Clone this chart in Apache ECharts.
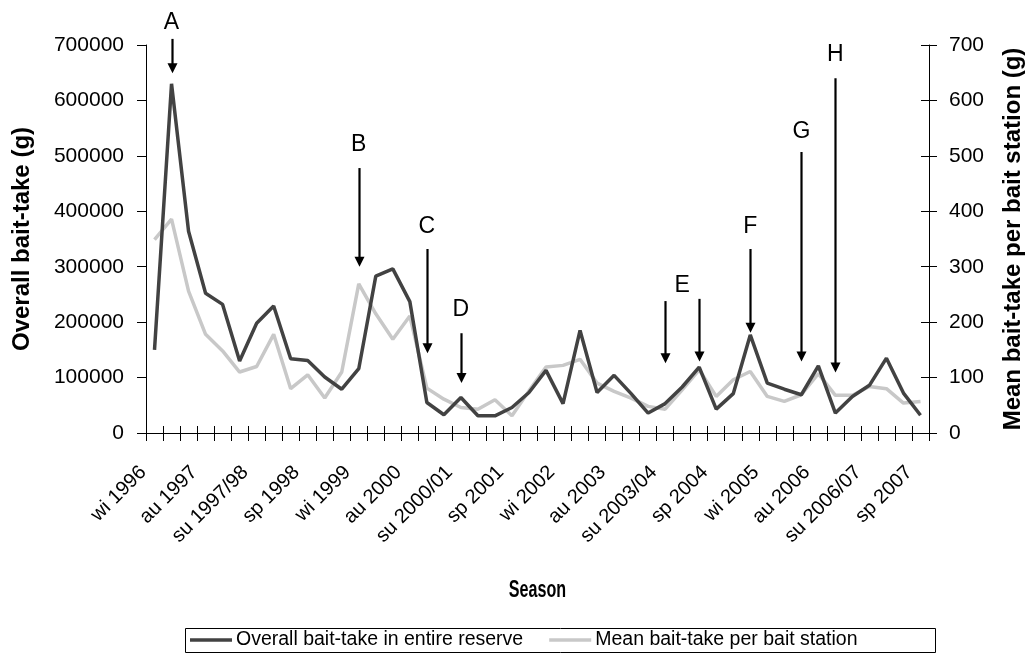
<!DOCTYPE html>
<html>
<head>
<meta charset="utf-8">
<script src="https://cdn.jsdelivr.net/npm/echarts@6/dist/echarts.min.js"></script>
<style>
  html, body { margin: 0; padding: 0; background: #ffffff; }
  #chart { width: 1033px; height: 666px; }
</style>
</head>
<body>
<div id="chart"></div>
<script>
// Seasons, winter 1996 to spring 2007 (southern-hemisphere order: wi, sp, su, au)
const seasons = [
  'wi 1996', 'sp 1996', 'su 1996/97', 'au 1997', 'wi 1997', 'sp 1997', 'su 1997/98', 'au 1998',
  'wi 1998', 'sp 1998', 'su 1998/99', 'au 1999', 'wi 1999', 'sp 1999', 'su 1999/2000', 'au 2000',
  'wi 2000', 'sp 2000', 'su 2000/01', 'au 2001', 'wi 2001', 'sp 2001', 'su 2001/02', 'au 2002',
  'wi 2002', 'sp 2002', 'su 2002/03', 'au 2003', 'wi 2003', 'sp 2003', 'su 2003/04', 'au 2004',
  'wi 2004', 'sp 2004', 'su 2004/05', 'au 2005', 'wi 2005', 'sp 2005', 'su 2005/06', 'au 2006',
  'wi 2006', 'sp 2006', 'su 2006/07', 'au 2007', 'wi 2007', 'sp 2007'
];

// Overall bait-take in the entire reserve (g)
const overallBaitTake = [
  150000, 630000, 364000, 252000, 232000, 130000, 198000, 229000, 134000, 131000, 101000, 79000,
  116000, 283000, 296000, 237000, 55000, 33000, 64000, 31000, 31000, 46000, 73000,
  113000, 53000, 185000, 73000, 104000, 71000, 36000, 53000, 83000, 119000, 43000, 71000,
  177000, 90000, 79000, 69000, 121000, 36000, 66000, 86000, 135000, 72000, 32000
];

// Mean bait-take per bait station (g)
const meanBaitTake = [
  349, 386, 256, 178, 148, 110, 120, 178, 80, 105, 63, 110,
  269, 215, 169, 211, 81, 61, 46, 43, 60, 31, 76,
  119, 122, 133, 90, 75, 63, 48, 43, 78, 114, 66, 96,
  111, 66, 57, 69, 107, 68, 68, 84, 80, 54, 57
];

// Axis ranges
const leftAxisMax = 700000;
const leftAxisStep = 100000;
const rightAxisMax = 700;
const rightAxisStep = 100;

// Management events: arrow at a season, from its top down to its tip (left-axis units)
const eventArrows = [
  { season: 1,  from: 711000, to: 649000 },
  { season: 12, from: 478000, to: 300000 },
  { season: 16, from: 332000, to: 144000 },
  { season: 18, from: 180000, to: 90000 },
  { season: 30, from: 238000, to: 126000 },
  { season: 32, from: 242000, to: 129000 },
  { season: 35, from: 332000, to: 181000 },
  { season: 38, from: 507000, to: 129000 },
  { season: 40, from: 640000, to: 109000 }
];
// Event letters: season and height on the left axis
const eventLetters = [
  { text: 'A', season: 1,  value: 740000 },
  { text: 'B', season: 12, value: 520000 },
  { text: 'C', season: 16, value: 372000 },
  { text: 'D', season: 18, value: 222000 },
  { text: 'E', season: 31, value: 265000 },
  { text: 'F', season: 35, value: 373000 },
  { text: 'G', season: 38, value: 543000 },
  { text: 'H', season: 40, value: 682000 }
];

const FONT = '"Liberation Sans", Arial, Helvetica, sans-serif';
const DARK = '#424242';
const LIGHT = '#c8c8c8';

const chart = echarts.init(document.getElementById('chart'), null, { renderer: 'canvas' });

const titleStyle = { fontFamily: FONT, fontSize: 24, fontWeight: 'bold', color: '#000000' };

chart.setOption({
  animation: false,
  backgroundColor: '#ffffff',
  textStyle: { fontFamily: FONT },
  grid: { left: 146, right: 98, top: 45, bottom: 233, containLabel: false },
  legend: {
    data: [
      { name: 'Overall bait-take in entire reserve', icon: 'rect' },
      { name: 'Mean bait-take per bait station', icon: 'rect' }
    ],
    left: 190,
    top: 628,
    padding: [2, 0, 2, 0],
    itemGap: 26,
    itemWidth: 42,
    itemHeight: 3.5,
    textStyle: { fontFamily: FONT, fontSize: 19.5, color: '#000000', padding: [0, 0, 0, -1] }
  },
  xAxis: [
    {
      type: 'category',
      data: seasons,
      boundaryGap: true,
      position: 'bottom',
      axisLine: { show: true, lineStyle: { color: '#000000', width: 1 } },
      axisTick: { show: true, interval: 0, length: 8, lineStyle: { color: '#000000' } },
      axisLabel: {
        interval: 2,
        rotate: 45,
        margin: 25,
        padding: [0, 16, 0, 0],
        fontFamily: FONT,
        fontSize: 20,
        color: '#000000'
      },
      splitLine: { show: false }
    },
    {
      // inner half of the crossing ticks
      type: 'category',
      data: seasons,
      boundaryGap: true,
      position: 'bottom',
      axisLine: { show: false },
      axisTick: { show: true, inside: true, interval: 0, length: 7, lineStyle: { color: '#000000' } },
      axisLabel: { show: false },
      splitLine: { show: false }
    }
  ],
  yAxis: [
    {
      type: 'value',
      min: 0,
      max: leftAxisMax,
      interval: leftAxisStep,
      position: 'left',
      axisLine: { show: true, lineStyle: { color: '#000000', width: 1 } },
      axisTick: { show: true, length: 9, lineStyle: { color: '#000000' } },
      axisLabel: { fontFamily: FONT, fontSize: 21, color: '#000000', margin: 22, formatter: v => String(v) },
      splitLine: { show: false },
      name: 'Overall bait-take (g)',
      nameLocation: 'middle',
      nameRotate: 90,
      nameGap: 112,
      nameTextStyle: titleStyle
    },
    {
      type: 'value',
      min: 0,
      max: rightAxisMax,
      interval: rightAxisStep,
      position: 'right',
      axisLine: { show: true, lineStyle: { color: '#000000', width: 1 } },
      axisTick: { show: true, length: 8, lineStyle: { color: '#000000' } },
      axisLabel: { fontFamily: FONT, fontSize: 21, color: '#000000', margin: 20, formatter: v => String(v) },
      splitLine: { show: false },
      name: 'Mean bait-take per bait station (g)',
      nameLocation: 'middle',
      nameRotate: 90,
      nameGap: 72,
      nameTextStyle: titleStyle
    },
    {
      // inner half of the right-hand crossing ticks
      type: 'value',
      min: 0,
      max: rightAxisMax,
      interval: rightAxisStep,
      position: 'right',
      axisLine: { show: false },
      axisTick: { show: true, inside: true, length: 8, lineStyle: { color: '#000000' } },
      axisLabel: { show: false },
      splitLine: { show: false }
    }
  ],
  series: [
    {
      name: 'Mean bait-take per bait station',
      type: 'line',
      xAxisIndex: 0,
      yAxisIndex: 1,
      data: meanBaitTake,
      showSymbol: false,
      symbol: 'none',
      lineStyle: { color: LIGHT, width: 3.5 },
      itemStyle: { color: LIGHT },
      z: 2
    },
    {
      name: 'Overall bait-take in entire reserve',
      type: 'line',
      xAxisIndex: 0,
      yAxisIndex: 0,
      data: overallBaitTake,
      showSymbol: false,
      symbol: 'none',
      lineStyle: { color: DARK, width: 3.5 },
      itemStyle: { color: DARK },
      z: 3
    }
  ]
});

// Event arrows, letters, the x-axis title and the legend frame, placed through the axes' own scales
function toPx(season, value) {
  return chart.convertToPixel({ xAxisIndex: 0, yAxisIndex: 0 }, [season, value]);
}

const ARROW_HEAD_LEN = 10;
const ARROW_HEAD_HALF = 5;
const annotations = [];

eventArrows.forEach(a => {
  const top = toPx(a.season, a.from);
  const tip = toPx(a.season, a.to);
  const x = Math.round(tip[0]) + 0.5;
  annotations.push({
    type: 'line',
    silent: true,
    z: 10,
    shape: { x1: x, y1: top[1], x2: x, y2: tip[1] - ARROW_HEAD_LEN + 1 },
    style: { stroke: '#000000', lineWidth: 2.2 }
  });
  annotations.push({
    type: 'polygon',
    silent: true,
    z: 10,
    shape: {
      points: [
        [x - ARROW_HEAD_HALF, tip[1] - ARROW_HEAD_LEN],
        [x + ARROW_HEAD_HALF, tip[1] - ARROW_HEAD_LEN],
        [x, tip[1]]
      ]
    },
    style: { fill: '#000000' }
  });
});

eventLetters.forEach(l => {
  const p = toPx(l.season, l.value);
  annotations.push({
    type: 'text',
    silent: true,
    z: 10,
    x: p[0],
    y: p[1],
    style: {
      text: l.text,
      font: '23px ' + FONT,
      fill: '#000000',
      align: 'center',
      verticalAlign: 'middle'
    }
  });
});

// x-axis title in a narrow bold face
const grid = chart.getModel().getComponent('grid').coordinateSystem.getRect();
annotations.push({
  type: 'text',
  silent: true,
  z: 10,
  x: grid.x + grid.width / 2,
  y: 591,
  scaleX: 0.7,
  style: {
    text: 'Season',
    font: 'bold 23px ' + FONT,
    fill: '#000000',
    align: 'center',
    verticalAlign: 'middle'
  }
});

annotations.push({
  type: 'rect',
  silent: true,
  z: 0,
  shape: { x: 185.5, y: 628.5, width: 750, height: 24 },
  style: { fill: 'none', stroke: '#000000', lineWidth: 1 }
});

chart.setOption({ graphic: { elements: annotations } });
</script>
</body>
</html>
